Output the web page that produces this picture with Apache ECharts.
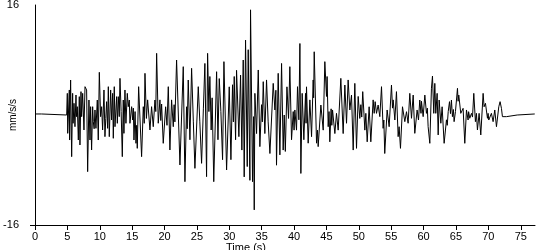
<!DOCTYPE html>
<html>
<head>
<meta charset="utf-8">
<script src="https://cdn.jsdelivr.net/npm/echarts@6/dist/echarts.min.js"></script>
<style>html,body{margin:0;padding:0;background:#fff}#c{width:550px;height:250px}</style>
</head>
<body>
<div id="c"></div>
<script>
// Time (s) of each sample
const times = [
0,1.0,1.05,4.89,4.99,5.05,5.30,5.35,5.50,5.66,5.81,5.88,6.02,6.17,6.33,6.40,6.53,6.69,6.84,6.94,
7.10,7.20,7.36,7.56,7.72,7.97,8.13,8.33,8.49,8.59,8.74,8.90,9.00,9.13,9.26,9.41,9.62,9.77,9.93,10.13,
10.29,10.44,10.65,10.80,10.93,11.06,11.21,11.32,11.47,11.68,11.83,11.99,12.09,12.24,12.35,12.60,12.71,12.86,13.01,13.12,
13.30,13.48,13.63,13.73,13.89,14.04,14.25,14.40,14.56,14.66,14.92,15.07,15.18,15.28,15.45,15.59,15.70,15.79,16.00,16.46,
16.72,16.87,16.98,17.20,17.39,17.75,18.00,18.26,18.52,18.65,18.78,19.03,19.29,19.42,19.55,19.80,20.17,20.38,20.58,20.83,
21.09,21.35,21.48,21.60,21.86,22.38,22.89,23.15,23.40,23.50,23.66,23.92,24.18,24.45,24.69,25.21,25.45,25.72,26.00,26.23,
26.49,26.65,26.85,27.00,27.20,27.35,27.60,28.04,28.25,28.45,28.70,28.96,29.17,29.58,29.99,30.25,30.50,30.63,30.76,30.97,
31.12,31.48,31.74,31.94,32.15,32.30,32.51,32.77,32.92,33.18,33.28,33.59,33.75,33.85,33.95,34.21,34.47,34.72,34.98,35.10,
35.24,35.49,35.75,36.00,36.27,36.78,37.04,37.19,37.29,37.55,37.81,38.07,38.32,38.48,38.65,38.90,39.15,39.35,39.61,39.87,
40.00,40.12,40.38,40.53,40.74,40.90,41.05,41.25,41.51,41.77,41.85,41.92,42.18,42.44,42.70,42.95,43.02,43.11,43.47,43.62,
43.72,44.14,44.50,44.75,45.01,45.10,45.27,45.40,45.52,45.72,45.83,45.94,46.30,46.55,46.81,47.22,47.58,47.84,48.10,48.35,
48.61,48.87,49.13,49.38,49.64,49.90,50.15,50.31,50.45,50.60,50.93,51.08,51.29,51.59,51.85,52.21,52.37,52.52,52.73,52.98,
53.24,53.50,53.75,53.86,54.00,54.37,54.68,55.04,55.20,55.30,55.56,55.81,56.07,56.22,56.43,56.74,57.10,57.36,57.61,57.87,
58.13,58.39,58.64,59.00,59.21,59.41,59.60,59.67,59.93,60.19,60.44,60.58,60.70,60.96,61.21,61.37,61.57,61.73,61.88,62.09,
62.25,62.40,62.66,62.86,63.17,63.53,63.65,63.80,64.00,64.15,64.30,64.45,64.60,64.71,64.92,65.23,65.33,65.43,65.74,66.10,
66.36,66.62,66.87,66.95,67.13,67.39,67.55,67.75,68.00,68.16,68.31,68.57,68.83,69.19,69.34,69.55,69.86,69.96,70.06,70.47,
70.73,70.99,71.25,71.61,71.81,72.02,72.17,72.79,72.94,74.45,74.49,77.16
];
// Acceleration (mm/s/s) at each sample
const accel = [
0.15,0.15,0,0,3.15,-2.67,3.64,-3.64,5.09,-6.06,3.15,-1.21,1.70,-1.70,2.91,-0.24,1.21,-3.64,2.67,-4.36,
3.40,-0.24,3.15,-2.18,4.12,3.64,-8.24,2.18,-3.64,1.21,-5.09,1.21,-0.97,-2.0,0.73,-1.94,2.18,-3.64,6.21,-0.24,
1.21,-2.18,3.64,-3.15,-0.5,1.94,-1.94,4.12,-3.15,3.64,-0.73,3.15,-3.39,4.12,-1.70,2.67,-1.21,2.67,-0.24,5.33,
0.5,-6.06,2.18,-2.67,3.64,-1.21,3.15,1.21,2.18,-1.21,1.21,-0.73,1.0,-3.64,0.5,-4.12,-1.5,-4.85,4.12,-6.06,
1.21,-1.21,6.06,-0.5,2.2,-2.18,1.21,-1.70,2.18,0.5,8.97,-1.2,2.2,-0.8,1.6,-4.12,1.2,-1.5,4.12,-5.09,
2.2,-1.7,1.5,-1.0,8.0,-7.27,7.03,-9.7,1.2,-2.0,5.09,-3.6,6.79,-1.0,-7.76,4.12,-1.0,-7.03,1.0,7.5,
-8.97,8.97,0.5,5.6,-2.18,2.5,-9.7,6.3,-3.6,5.3,0.5,-6.5,7.76,-8.0,4.1,-6.5,4.4,-1.0,5.6,-3.6,
6.5,-3.15,5.8,-5.1,8.0,-9.0,10.9,-7.5,9.5,-9.5,15.3,-9.7,-0.24,-13.8,3.15,-2.7,6.55,-4.6,1.5,-1.0,
4.85,-2.7,5.1,-1.0,-5.6,4.6,0.73,3.6,-7.3,6.06,-5.8,7.5,-5.1,0.0,-5.3,4.1,-0.5,7.03,-3.6,0.5,
-2.2,0.73,-2.2,4.12,-0.7,10.4,-8.5,3.15,-3.6,3.15,-1.2,4.1,-4.1,2.2,-3.15,5.1,2.5,9.2,-4.1,-2.2,
-4.6,1.45,-2.2,7.76,2.7,5.6,-1.7,0.5,-3.9,0.9,-1.5,0.73,-2.7,0.24,-2.2,5.33,-2.7,4.36,-1.2,5.1,
0.73,2.9,-5.1,4.6,-4.85,2.7,-0.5,1.5,-0.3,3.4,-2.2,0.24,-3.9,1.2,-3.9,2.2,0.24,1.94,0.24,1.45,
-0.24,4.12,-1.94,-0.73,-5.6,0.73,-1.7,4.36,1.0,2.2,-0.73,3.4,-3.15,-1.7,-4.85,1.2,-0.97,0.48,-1.2,3.15,
-0.48,2.9,-2.67,0.73,-0.73,2.18,0.24,2.0,-0.24,2.9,0.24,1.0,-1.7,-4.12,3.9,5.67,0.24,4.6,0.24,3.15,
-2.9,2.18,-1.2,1.2,-4.12,-0.7,-1.5,0.5,1.94,0.2,2.18,-0.24,0.8,-0.97,0.5,3.88,2.0,2.9,0.24,0.97,
-4.12,0.73,-0.73,0.48,-0.48,0.24,-0.3,3.15,-0.97,0.24,-2.18,0.24,-2.9,3.15,1.2,1.7,-0.48,0.24,-0.73,0.24,
-0.97,0.73,-1.7,1.2,1.94,0.97,-0.24,-0.24,0.0,0.0,0.15,0.15
];
// Tick labels
const xTicks = [0,5,10,15,20,25,30,35,40,45,50,55,60,65,70,75];
const yTicks = [-16, 16];

const data = times.map((t, i) => [t, accel[i]]);
const font = 'Liberation Sans, Arial, sans-serif';
const chart = echarts.init(document.getElementById('c'), null, {renderer: 'canvas'});
chart.setOption({
  animation: false,
  grid: {left: 35, right: 15, top: 5, bottom: 25, containLabel: false, outerBoundsMode: 'none'},
  xAxis: {
    type: 'value', min: 0, max: 77.2, interval: 5,
    name: 'Time (s)', nameLocation: 'middle', nameGap: 17, nameMoveOverlap: false,
    nameTextStyle: {color: '#000', fontFamily: font, fontSize: 11, padding: [0, 78, 0, 0]},
    axisLine: {show: true, onZero: false, lineStyle: {color: '#000', width: 1}},
    axisTick: {show: true, length: 5, customValues: xTicks, lineStyle: {color: '#000'}},
    axisLabel: {color: '#000', fontFamily: font, fontSize: 11, margin: 6, customValues: xTicks},
    splitLine: {show: false}
  },
  yAxis: {
    type: 'value', min: -16, max: 16, interval: 16,
    name: 'mm/s/s', nameLocation: 'middle', nameGap: 17, nameRotate: 90, nameMoveOverlap: false,
    nameTextStyle: {color: '#000', fontFamily: font, fontSize: 10},
    axisLine: {show: true, onZero: false, lineStyle: {color: '#000', width: 1}},
    axisTick: {show: true, length: 5, customValues: [-16], lineStyle: {color: '#000'}},
    axisLabel: {color: '#000', fontFamily: font, fontSize: 11, margin: 16, customValues: yTicks},
    splitLine: {show: false}
  },
  series: [{
    type: 'line', data: data, showSymbol: false, symbol: 'none',
    sampling: null, lineStyle: {color: '#000', width: 1}, z: 3
  }]
});
</script>
</body>
</html>
